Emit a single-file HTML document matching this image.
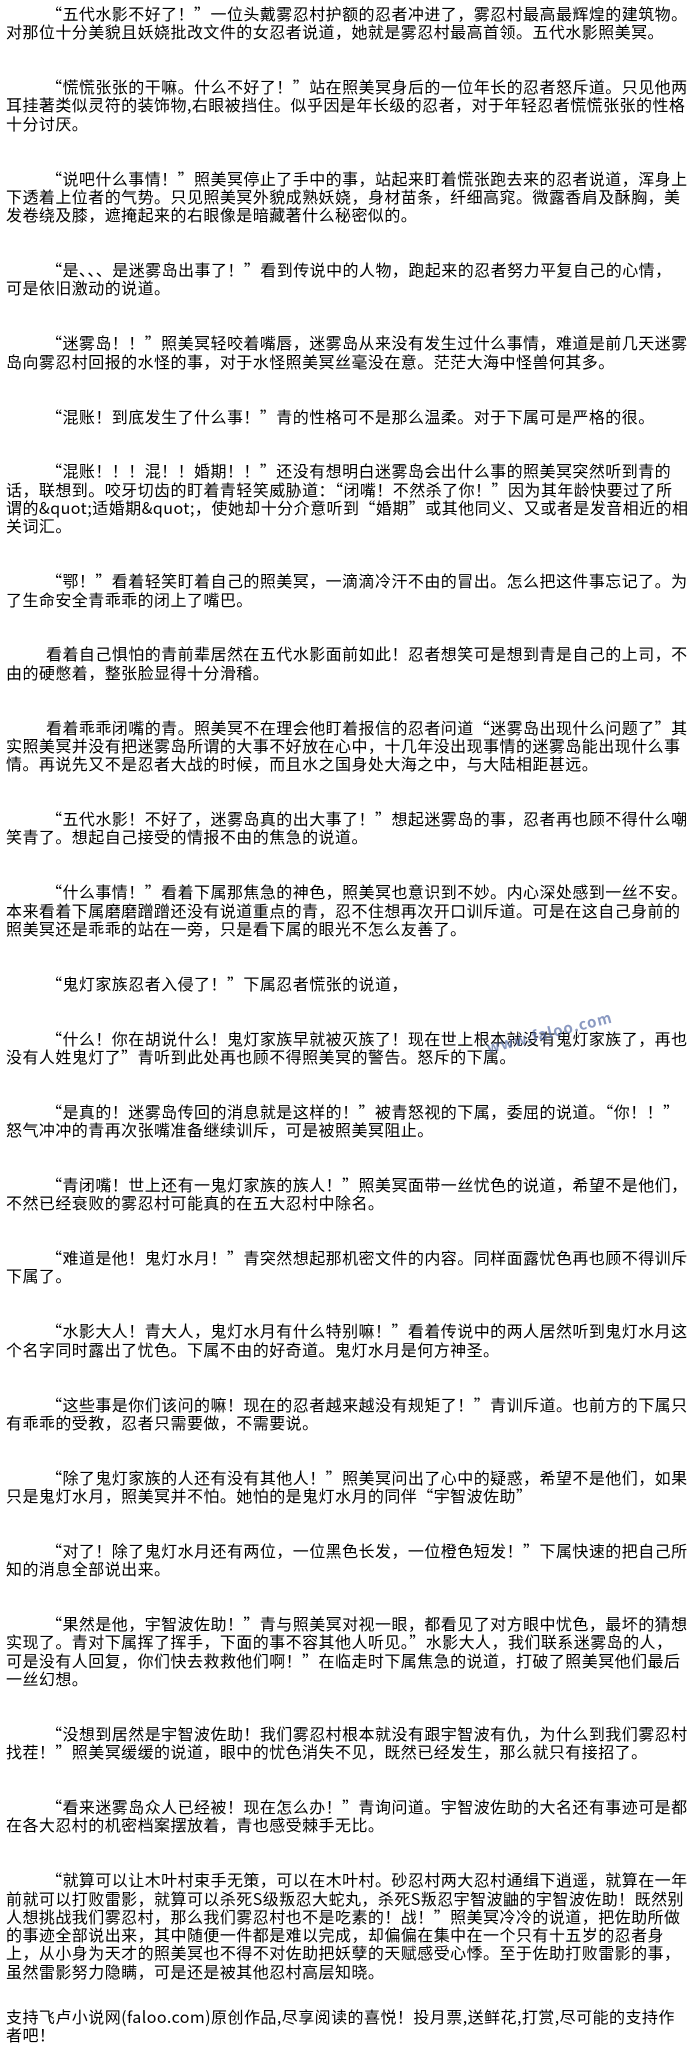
<!DOCTYPE html>
<html><head><meta charset="utf-8"><style>
html,body{margin:0;padding:0;background:#fff;}
body{width:700px;height:2037px;overflow:hidden;position:relative;font-family:"WenQuanYi Zen Hei","Noto Sans CJK SC",sans-serif;font-size:16px;color:#000;letter-spacing:0.45px;}
#t{position:absolute;left:6px;top:4px;}
.l{height:18.3px;line-height:18.3px;white-space:nowrap;}
.i{padding-left:40px;}
.b{height:36.6px;}
.c{height:27px;}
.wm{position:absolute;left:485px;top:1022px;transform:rotate(-14deg);color:#5a6fa8;opacity:.7;font-size:15px;font-weight:bold;letter-spacing:1px;white-space:nowrap;}
</style></head><body>
<div id="t">
<div class="l i">“五代水影不好了！”一位头戴雾忍村护额的忍者冲进了，雾忍村最高最辉煌的建筑物。</div>
<div class="l">对那位十分美貌且妖娆批改文件的女忍者说道，她就是雾忍村最高首领。五代水影照美冥。</div>
<div class="b"></div>
<div class="l i">“慌慌张张的干嘛。什么不好了！”站在照美冥身后的一位年长的忍者怒斥道。只见他两</div>
<div class="l">耳挂著类似灵符的装饰物,右眼被挡住。似乎因是年长级的忍者，对于年轻忍者慌慌张张的性格</div>
<div class="l">十分讨厌。</div>
<div class="b"></div>
<div class="l i">“说吧什么事情！”照美冥停止了手中的事，站起来盯着慌张跑去来的忍者说道，浑身上</div>
<div class="l">下透着上位者的气势。只见照美冥外貌成熟妖娆，身材苗条，纤细高窕。微露香肩及酥胸，美</div>
<div class="l">发卷绕及膝，遮掩起来的右眼像是暗藏著什么秘密似的。</div>
<div class="b"></div>
<div class="l i">“是、、、是迷雾岛出事了！”看到传说中的人物，跑起来的忍者努力平复自己的心情，</div>
<div class="l">可是依旧激动的说道。</div>
<div class="b"></div>
<div class="l i">“迷雾岛！！”照美冥轻咬着嘴唇，迷雾岛从来没有发生过什么事情，难道是前几天迷雾</div>
<div class="l">岛向雾忍村回报的水怪的事，对于水怪照美冥丝毫没在意。茫茫大海中怪兽何其多。</div>
<div class="b"></div>
<div class="l i">“混账！到底发生了什么事！”青的性格可不是那么温柔。对于下属可是严格的很。</div>
<div class="b"></div>
<div class="l i">“混账！！！混！！婚期！！”还没有想明白迷雾岛会出什么事的照美冥突然听到青的</div>
<div class="l">话，联想到。咬牙切齿的盯着青轻笑威胁道：“闭嘴！不然杀了你！”因为其年龄快要过了所</div>
<div class="l">谓的&amp;quot;适婚期&amp;quot;，使她却十分介意听到“婚期”或其他同义、又或者是发音相近的相</div>
<div class="l">关词汇。</div>
<div class="b"></div>
<div class="l i">“鄂！”看着轻笑盯着自己的照美冥，一滴滴冷汗不由的冒出。怎么把这件事忘记了。为</div>
<div class="l">了生命安全青乖乖的闭上了嘴巴。</div>
<div class="b"></div>
<div class="l i">看着自己惧怕的青前辈居然在五代水影面前如此！忍者想笑可是想到青是自己的上司，不</div>
<div class="l">由的硬憋着，整张脸显得十分滑稽。</div>
<div class="b"></div>
<div class="l i">看着乖乖闭嘴的青。照美冥不在理会他盯着报信的忍者问道“迷雾岛出现什么问题了”其</div>
<div class="l">实照美冥并没有把迷雾岛所谓的大事不好放在心中，十几年没出现事情的迷雾岛能出现什么事</div>
<div class="l">情。再说先又不是忍者大战的时候，而且水之国身处大海之中，与大陆相距甚远。</div>
<div class="b"></div>
<div class="l i">“五代水影！不好了，迷雾岛真的出大事了！”想起迷雾岛的事，忍者再也顾不得什么嘲</div>
<div class="l">笑青了。想起自己接受的情报不由的焦急的说道。</div>
<div class="b"></div>
<div class="l i">“什么事情！”看着下属那焦急的神色，照美冥也意识到不妙。内心深处感到一丝不安。</div>
<div class="l">本来看着下属磨磨蹭蹭还没有说道重点的青，忍不住想再次开口训斥道。可是在这自己身前的</div>
<div class="l">照美冥还是乖乖的站在一旁，只是看下属的眼光不怎么友善了。</div>
<div class="b"></div>
<div class="l i">“鬼灯家族忍者入侵了！”下属忍者慌张的说道，</div>
<div class="b"></div>
<div class="l i">“什么！你在胡说什么！鬼灯家族早就被灭族了！现在世上根本就没有鬼灯家族了，再也</div>
<div class="l">没有人姓鬼灯了”青听到此处再也顾不得照美冥的警告。怒斥的下属。</div>
<div class="b"></div>
<div class="l i">“是真的！迷雾岛传回的消息就是这样的！”被青怒视的下属，委屈的说道。“你！！”</div>
<div class="l">怒气冲冲的青再次张嘴准备继续训斥，可是被照美冥阻止。</div>
<div class="b"></div>
<div class="l i">“青闭嘴！世上还有一鬼灯家族的族人！”照美冥面带一丝忧色的说道，希望不是他们，</div>
<div class="l">不然已经衰败的雾忍村可能真的在五大忍村中除名。</div>
<div class="b"></div>
<div class="l i">“难道是他！鬼灯水月！”青突然想起那机密文件的内容。同样面露忧色再也顾不得训斥</div>
<div class="l">下属了。</div>
<div class="b"></div>
<div class="l i">“水影大人！青大人，鬼灯水月有什么特别嘛！”看着传说中的两人居然听到鬼灯水月这</div>
<div class="l">个名字同时露出了忧色。下属不由的好奇道。鬼灯水月是何方神圣。</div>
<div class="b"></div>
<div class="l i">“这些事是你们该问的嘛！现在的忍者越来越没有规矩了！”青训斥道。也前方的下属只</div>
<div class="l">有乖乖的受教，忍者只需要做，不需要说。</div>
<div class="b"></div>
<div class="l i">“除了鬼灯家族的人还有没有其他人！”照美冥问出了心中的疑惑，希望不是他们，如果</div>
<div class="l">只是鬼灯水月，照美冥并不怕。她怕的是鬼灯水月的同伴“宇智波佐助”</div>
<div class="b"></div>
<div class="l i">“对了！除了鬼灯水月还有两位，一位黑色长发，一位橙色短发！”下属快速的把自己所</div>
<div class="l">知的消息全部说出来。</div>
<div class="b"></div>
<div class="l i">“果然是他，宇智波佐助！”青与照美冥对视一眼，都看见了对方眼中忧色，最坏的猜想</div>
<div class="l">实现了。青对下属挥了挥手，下面的事不容其他人听见。”水影大人，我们联系迷雾岛的人，</div>
<div class="l">可是没有人回复，你们快去救救他们啊！”在临走时下属焦急的说道，打破了照美冥他们最后</div>
<div class="l">一丝幻想。</div>
<div class="b"></div>
<div class="l i">“没想到居然是宇智波佐助！我们雾忍村根本就没有跟宇智波有仇，为什么到我们雾忍村</div>
<div class="l">找茬！”照美冥缓缓的说道，眼中的忧色消失不见，既然已经发生，那么就只有接招了。</div>
<div class="b"></div>
<div class="l i">“看来迷雾岛众人已经被！现在怎么办！”青询问道。宇智波佐助的大名还有事迹可是都</div>
<div class="l">在各大忍村的机密档案摆放着，青也感受棘手无比。</div>
<div class="b"></div>
<div class="l i">“就算可以让木叶村束手无策，可以在木叶村。砂忍村两大忍村通缉下逍遥，就算在一年</div>
<div class="l">前就可以打败雷影，就算可以杀死S级叛忍大蛇丸，杀死S叛忍宇智波鼬的宇智波佐助！既然别</div>
<div class="l">人想挑战我们雾忍村，那么我们雾忍村也不是吃素的！战！”照美冥冷冷的说道，把佐助所做</div>
<div class="l">的事迹全部说出来，其中随便一件都是难以完成，却偏偏在集中在一个只有十五岁的忍者身</div>
<div class="l">上，从小身为天才的照美冥也不得不对佐助把妖孽的天赋感受心悸。至于佐助打败雷影的事，</div>
<div class="l">虽然雷影努力隐瞒，可是还是被其他忍村高层知晓。</div>
<div class="c"></div>
<div class="l">支持飞卢小说网(faloo.com)原创作品,尽享阅读的喜悦！投月票,送鲜花,打赏,尽可能的支持作</div>
<div class="l">者吧！</div>
</div>
<div class="wm">www.faloo.com</div>
</body></html>
